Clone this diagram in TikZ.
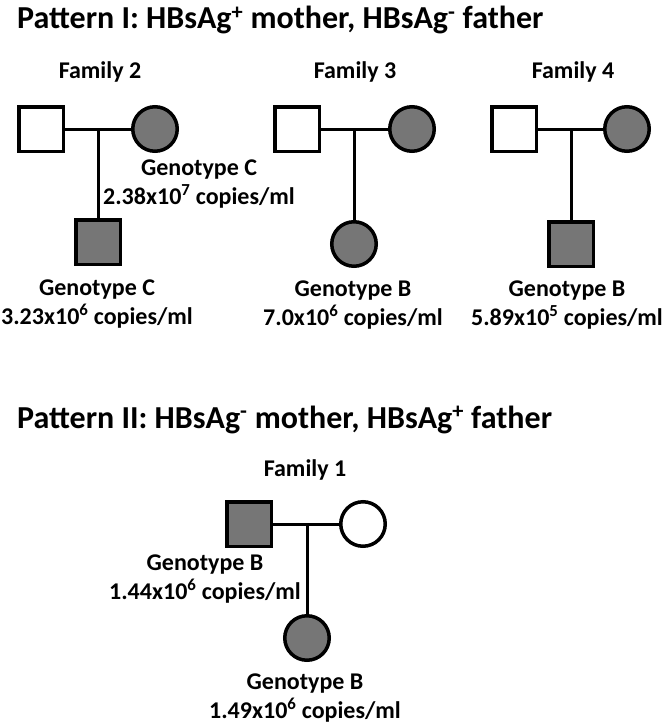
\documentclass[tikz,border=0pt]{standalone}
\usepackage{fontspec}
\setmainfont{Carlito}
\usetikzlibrary{positioning}
\definecolor{affgray}{RGB}{118,118,118}

\begin{document}
\begin{tikzpicture}[x=1pt,y=-1pt,
    male/.style={draw,line width=3.5pt,minimum size=44.5pt,inner sep=0pt},
    female/.style={draw,circle,line width=3.5pt,minimum size=44.5pt,inner sep=0pt},
    aff/.style={fill=affgray},
    link/.style={line width=3pt},
    lbl/.style={font=\fontsize{24}{29}\selectfont\bfseries,align=center,inner sep=0pt},
    ttl/.style={font=\fontsize{32}{40}\selectfont\bfseries,anchor=base west,inner sep=0pt}]
    \useasboundingbox[fill=white] (0,0) rectangle (663,725);

    \node[ttl] (t1) at (17,29) {Pattern I: HBsAg\textsuperscript{+} mother, HBsAg\textsuperscript{-} father};

    % Family 2
    \node[lbl] (f2) at (100,72) {Family 2};
    \node[male] (f2fa) at (41,129) {};
    \node[female,aff] (f2mo) at (155,129) {};
    \node[male,aff] (f2ch) at (98,242) {};
    \coordinate (f2m) at (f2ch |- f2fa);
    \draw[link] (f2fa) -- (f2mo);
    \draw[link] (f2m) -- (f2ch);
    \node[lbl] (f2mol) at (199,184) {Genotype C\\2.38x10\textsuperscript{7} copies/ml};
    \node[lbl] (f2chl) at (97,304) {Genotype C\\3.23x10\textsuperscript{6} copies/ml};

    % Family 3
    \node[lbl] (f3) at (355,72) {Family 3};
    \node[male] (f3fa) at (297,129) {};
    \node[female,aff] (f3mo) at (412,129) {};
    \node[female,aff] (f3ch) at (354,244) {};
    \coordinate (f3m) at (f3ch |- f3fa);
    \draw[link] (f3fa) -- (f3mo);
    \draw[link] (f3m) -- (f3ch);
    \node[lbl] (f3chl) at (353,305) {Genotype B\\7.0x10\textsuperscript{6} copies/ml};

    % Family 4
    \node[lbl] (f4) at (573,72) {Family 4};
    \node[male] (f4fa) at (514,129) {};
    \node[female,aff] (f4mo) at (627,129) {};
    \node[male,aff] (f4ch) at (571,244) {};
    \coordinate (f4m) at (f4ch |- f4fa);
    \draw[link] (f4fa) -- (f4mo);
    \draw[link] (f4m) -- (f4ch);
    \node[lbl] (f4chl) at (567,305) {Genotype B\\5.89x10\textsuperscript{5} copies/ml};

    \node[ttl] (t2) at (17,428) {Pattern II: HBsAg\textsuperscript{-} mother, HBsAg\textsuperscript{+} father};

    % Family 1
    \node[lbl] (f1) at (305,470) {Family 1};
    \node[male,aff] (f1fa) at (249,524) {};
    \node[female] (f1mo) at (363,524) {};
    \node[female,aff] (f1ch) at (307,638) {};
    \coordinate (f1m) at (f1ch |- f1fa);
    \draw[link] (f1fa) -- (f1mo);
    \draw[link] (f1m) -- (f1ch);
    \node[lbl] (f1fal) at (205,579) {Genotype B\\1.44x10\textsuperscript{6} copies/ml};
    \node[lbl] (f1chl) at (305,698) {Genotype B\\1.49x10\textsuperscript{6} copies/ml};
\end{tikzpicture}
\end{document}
